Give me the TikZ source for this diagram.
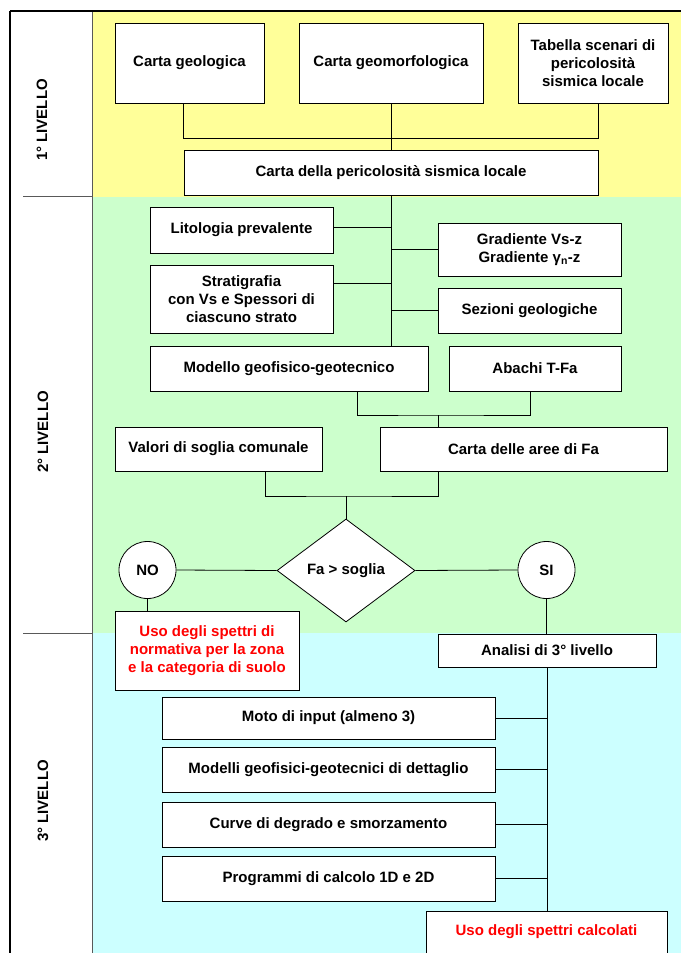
\documentclass[tikz,border=0pt]{standalone}
\usepackage{fontspec}
\setmainfont{Liberation Sans}
\usetikzlibrary{shapes.geometric,calc}
\definecolor{lvone}{HTML}{FFFF99}
\definecolor{lvtwo}{HTML}{CCFFCC}
\definecolor{lvthree}{HTML}{CCFFFF}
\definecolor{redtxt}{HTML}{FF0000}
\begin{document}
\begin{tikzpicture}[x=1bp,y=-1bp,
  every node/.style={font=\fontsize{15bp}{18bp}\selectfont\bfseries},
  box/.style={draw=black, line width=0.8bp, fill=white, inner sep=2bp, align=center},
  conn/.style={line width=0.8bp, draw=black},
  circ/.style={draw=black, line width=0.8bp, fill=white, circle, minimum size=57bp, inner sep=0bp},
  decision/.style={draw=black, line width=0.8bp, fill=white, diamond, aspect=1.34, minimum width=138bp, minimum height=103bp, inner sep=0bp},
  lvlabel/.style={rotate=90},
  sep/.style={line width=0.8bp, draw=black!65}]
\useasboundingbox (0,0) rectangle (681,953);
\clip (0,0) rectangle (681,953);
% background bands
\fill[white] (0,0) rectangle (681,953);
\fill[lvone] (92,12) rectangle (681,196.5);
\fill[lvtwo] (92,196.5) rectangle (681,633);
\fill[lvthree] (92,633) rectangle (681,953);
% frame
\draw[sep] (92,11) -- (92,953);
\draw[sep] (23,196.5) -- (92,196.5);
\draw[sep] (23,633) -- (92,633);
\draw[line width=2.5bp] (10,11) -- (681,11);
\draw[line width=2.5bp] (10,11) -- (10,953);
% level labels
\node[lvlabel] (l1) at (42,120) {1° LIVELLO};
\node[lvlabel] (l2) at (43,432) {2° LIVELLO};
\node[lvlabel] (l3) at (43,801) {3° LIVELLO};
% level 1
\node[box, minimum width=149bp, minimum height=80bp] (geol) at (189.5,63) {Carta geologica};
\node[box, minimum width=184bp, minimum height=80bp] (geomorf) at (391,63) {Carta geomorfologica};
\node[box, minimum width=150bp, minimum height=80bp] (tabella) at (593,63) {Tabella scenari di\\pericolosità\\sismica locale};
\node[box, minimum width=414bp, minimum height=45bp] (pericol) at (391,172.5) {Carta della pericolosità sismica locale};
% level 2
\node[box, minimum width=183bp, minimum height=46bp] (lito) at (241.5,230) {Litologia prevalente};
\node[box, minimum width=183bp, minimum height=68bp] (strat) at (241.5,299) {Stratigrafia\\con Vs e Spessori di\\ciascuno strato};
\node[box, minimum width=183bp, minimum height=53bp] (grad) at (529.5,249.5) {Gradiente Vs-z\\Gradiente γ\textsubscript{n}-z};
\node[box, minimum width=183bp, minimum height=45bp] (sez) at (529.5,310.5) {Sezioni geologiche};
\node[box, minimum width=278bp, minimum height=45bp] (modello) at (289,368.5) {Modello geofisico-geotecnico};
\node[box, minimum width=172bp, minimum height=45bp] (abachi) at (535,368.5) {Abachi T-Fa};
\node[box, minimum width=207bp, minimum height=44bp] (valori) at (218.5,449) {Valori di soglia comunale};
\node[box, minimum width=287bp, minimum height=44bp] (aree) at (523.5,449) {Carta delle aree di Fa};
\node[decision] (dec) at (346,570.5) {Fa > soglia};
\node[circ] (no) at (147.5,570) {NO};
\node[circ] (si) at (546.5,570) {SI};
\node[box, text=redtxt, minimum width=184bp, minimum height=79bp] (spettri) at (207,650.5) {Uso degli spettri di\\normativa per la zona\\e la categoria di suolo};
% level 3
\node[box, minimum width=218bp, minimum height=33bp] (analisi) at (547,650.5) {Analisi di 3° livello};
\node[box, minimum width=333bp, minimum height=42bp] (moto) at (328.5,718) {Moto di input (almeno 3)};
\node[box, minimum width=333bp, minimum height=45bp] (modelli) at (328.5,769.5) {Modelli geofisici-geotecnici di dettaglio};
\node[box, minimum width=333bp, minimum height=45bp] (curve) at (328.5,824.5) {Curve di degrado e smorzamento};
\node[box, minimum width=333bp, minimum height=45bp] (programmi) at (328.5,878.5) {Programmi di calcolo 1D e 2D};
\node[box, text=redtxt, anchor=north, minimum width=241bp, inner ysep=4bp, text height=20bp, text depth=40bp] (calcolati) at (546.5,911) {Uso degli spettri calcolati};
% connectors level 1
\coordinate (j1) at (391,138);
\draw[conn] (pericol.west |- geol.south) -- (pericol.west |- j1) -- (pericol.east |- j1) -- (pericol.east |- tabella.south);
\draw[conn] (geomorf.south) -- (pericol.north);
% connectors level 2
\draw[conn] (pericol.south) -- (pericol.south |- modello.north);
\draw[conn] ($(lito.east)+(0,-3)$) -- ($(lito.east -| pericol.south)+(0,-3)$);
\draw[conn] ($(strat.north east)+(0,19)$) -- ($(strat.north east -| pericol.south)+(0,19)$);
\draw[conn] (grad.west) -- (grad.west -| pericol.south);
\draw[conn] (sez.west) -- (sez.west -| pericol.south);
\coordinate (j2) at (438,415);
\draw[conn] ($(modello.south)+(68,0)$) |- (j2) -| ($(abachi.south)+(-5,0)$);
\draw[conn] (j2) -- (j2 |- aree.north);
\coordinate (j3) at (346,496);
\draw[conn] ($(valori.south)+(46.5,0)$) |- (j3) -| ($(aree.south)+(-85.5,0)$);
\draw[conn] (j3) -- (dec.north);
\draw[conn] (no.east) -- (dec.west);
\draw[conn] (dec.east) -- (si.west);
\draw[conn] (no.south) -- (no.south |- spettri.north);
\draw[conn] (si.south) -- (si.south |- analisi.north);
% connectors level 3
\draw[conn] (analisi.south) -- (analisi.south |- calcolati.north);
\foreach \n in {moto,modelli,curve,programmi}
  \draw[conn] (\n.east) -- (\n.east -| analisi.south);
\end{tikzpicture}
\end{document}
